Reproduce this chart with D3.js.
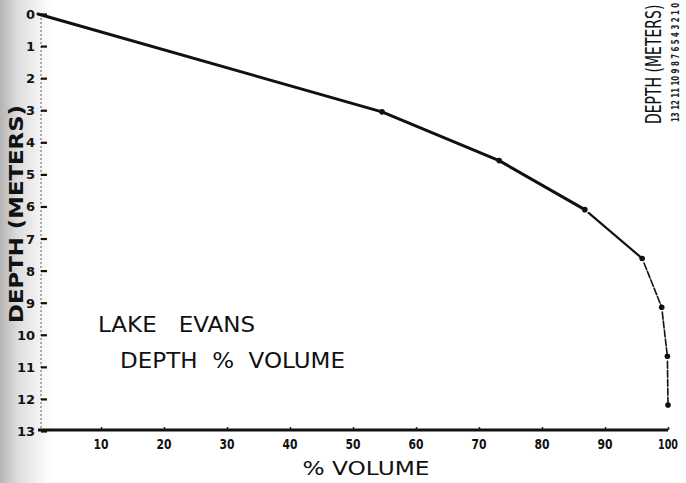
<!DOCTYPE html>
<html>
<head>
<meta charset="utf-8">
<script src="https://cdn.jsdelivr.net/npm/d3@7"></script>
<style>
  html, body { margin: 0; padding: 0; background: #fff; }
  svg { display: block; }
  text { white-space: pre; }
</style>
</head>
<body>
<div id="chart"></div>
<script>
// Lake Evans: depth (m) against cumulative % volume.
// Depths were surveyed every 5 ft (shown here converted to metres).
const depthM     = [0, 3.05, 4.57, 6.10, 7.62, 9.14, 10.67, 12.19];
const pctVolume  = [0, 54.6, 73.2, 86.8, 95.9, 99.0, 99.9, 100];
const depthTicks = [0, 1, 2, 3, 4, 5, 6, 7, 8, 9, 10, 11, 12, 13];
const volumeTicks = [10, 20, 30, 40, 50, 60, 70, 80, 90, 100];
const titleLines = ["LAKE   EVANS", "DEPTH  %  VOLUME"];

const W = 686, H = 483;
const svg = d3.select("#chart").append("svg")
  .attr("width", W).attr("height", H);

// paper shading at the left margin
const defs = svg.append("defs");
const g1 = defs.append("linearGradient").attr("id", "shade")
  .attr("x1", 0).attr("x2", 1).attr("y1", 0).attr("y2", 0);
g1.append("stop").attr("offset", 0).attr("stop-color", "#b4b4b4");
g1.append("stop").attr("offset", 0.35).attr("stop-color", "#dedede");
g1.append("stop").attr("offset", 1).attr("stop-color", "#ffffff");
svg.append("rect").attr("width", W).attr("height", H).attr("fill", "#fff");
svg.append("rect").attr("x", 0).attr("y", 0).attr("width", 52).attr("height", H)
  .attr("fill", "url(#shade)");

const x = d3.scaleLinear().domain([0, 100]).range([38, 668]);
const y = d3.scaleLinear().domain([0, 13]).range([14, 431]);

const font = "'DejaVu Sans', sans-serif";

// Y axis: faint dotted spine with right-pointing ticks
svg.append("line")
  .attr("x1", x(0) + 3).attr("x2", x(0) + 3)
  .attr("y1", y(0)).attr("y2", y(13))
  .attr("stroke", "#777").attr("stroke-width", 1.2)
  .attr("stroke-dasharray", "2,2");
const yAxis = d3.axisRight(y).tickValues(depthTicks).tickSize(6).tickFormat("");
const ya = svg.append("g").attr("transform", `translate(${x(0) + 3},0)`).call(yAxis);
ya.select(".domain").remove();
ya.selectAll(".tick line").attr("stroke", "#111").attr("stroke-width", 2.2);

svg.append("g").selectAll("text").data(depthTicks).join("text")
  .attr("x", 35).attr("y", d => y(d) + 5)
  .attr("text-anchor", "end")
  .attr("font-family", font).attr("font-weight", "bold")
  .attr("font-size", 13).attr("fill", "#111")
  .text(d => d);

// X axis: heavy baseline with small upward ticks
const xAxis = d3.axisTop(x).tickValues(volumeTicks).tickSize(3).tickFormat("");
const xa = svg.append("g").attr("transform", `translate(0,${y(13) - 1})`).call(xAxis);
xa.select(".domain").attr("stroke", "#111").attr("stroke-width", 3.2)
  .attr("d", `M${x(0)},0H${x(100)}`);
xa.selectAll(".tick line").attr("stroke", "#222").attr("stroke-width", 1.5);

svg.append("g").selectAll("text").data(volumeTicks).join("text")
  .attr("x", d => x(d)).attr("y", 449)
  .attr("text-anchor", "middle")
  .attr("font-family", font).attr("font-weight", "bold")
  .attr("font-size", 14).attr("fill", "#111")
  .attr("textLength", d => d === 100 ? 20 : 15)
  .attr("lengthAdjust", "spacingAndGlyphs")
  .text(d => d);

// axis titles
svg.append("text")
  .attr("x", 366).attr("y", 475)
  .attr("text-anchor", "middle")
  .attr("font-family", font).attr("font-size", 19).attr("fill", "#111")
  .attr("textLength", 127).attr("lengthAdjust", "spacingAndGlyphs")
  .text("% VOLUME");

svg.append("text")
  .attr("transform", "translate(23,214) rotate(-90)")
  .attr("text-anchor", "middle")
  .attr("font-family", font).attr("font-weight", "bold")
  .attr("font-size", 20).attr("fill", "#111")
  .attr("textLength", 218).attr("lengthAdjust", "spacingAndGlyphs")
  .text("DEPTH (METERS)");

// in-plot caption
svg.append("text")
  .attr("x", 98).attr("y", 332)
  .attr("font-family", font).attr("font-size", 21).attr("fill", "#111")
  .attr("textLength", 157).attr("lengthAdjust", "spacingAndGlyphs")
  .text(titleLines[0]);
svg.append("text")
  .attr("x", 120).attr("y", 368)
  .attr("font-family", font).attr("font-size", 21).attr("fill", "#111")
  .attr("textLength", 225).attr("lengthAdjust", "spacingAndGlyphs")
  .text(titleLines[1]);

// neighbouring figure's axis title along the right edge (tall, narrow lettering)
svg.append("text")
  .attr("transform", "translate(661,124) rotate(-90) scale(1,1.5)")
  .attr("font-family", font).attr("font-size", 14).attr("fill", "#111")
  .text("DEPTH (METERS)");
svg.append("text")
  .attr("transform", "translate(679,122) rotate(-90) scale(1,1.4)")
  .attr("font-family", font).attr("font-weight", "bold")
  .attr("font-size", 7).attr("fill", "#222")
  .text("13 12 11 10 9 8 7 6 5 4 3 2 1 0");

// curve: heavy solid segments in the upper part, lighter broken strokes below
const pts = depthM.map((d, i) => [x(pctVolume[i]), y(d)]);
const segs = d3.range(pts.length - 1).map(i => ({ a: pts[i], b: pts[i + 1], i }));
const startOf = s => {
  if (s.i < 3) return s.a;
  const dx = s.b[0] - s.a[0], dy = s.b[1] - s.a[1], L = Math.hypot(dx, dy);
  return [s.a[0] + dx / L * 5, s.a[1] + dy / L * 5];
};
svg.append("g").selectAll("line").data(segs).join("line")
  .attr("x1", s => startOf(s)[0]).attr("y1", s => startOf(s)[1])
  .attr("x2", s => s.b[0]).attr("y2", s => s.b[1])
  .attr("stroke", "#111")
  .attr("stroke-width", s => s.i < 3 ? 3 : (s.i < 4 ? 2.2 : 1.6))
  .attr("stroke-dasharray", s => s.i < 4 ? null : "7,2")
  .attr("stroke-linecap", "round");

svg.append("g").selectAll("circle").data(pts.slice(1)).join("circle")
  .attr("cx", p => p[0]).attr("cy", p => p[1])
  .attr("r", 2.8).attr("fill", "#111");
</script>
</body>
</html>
